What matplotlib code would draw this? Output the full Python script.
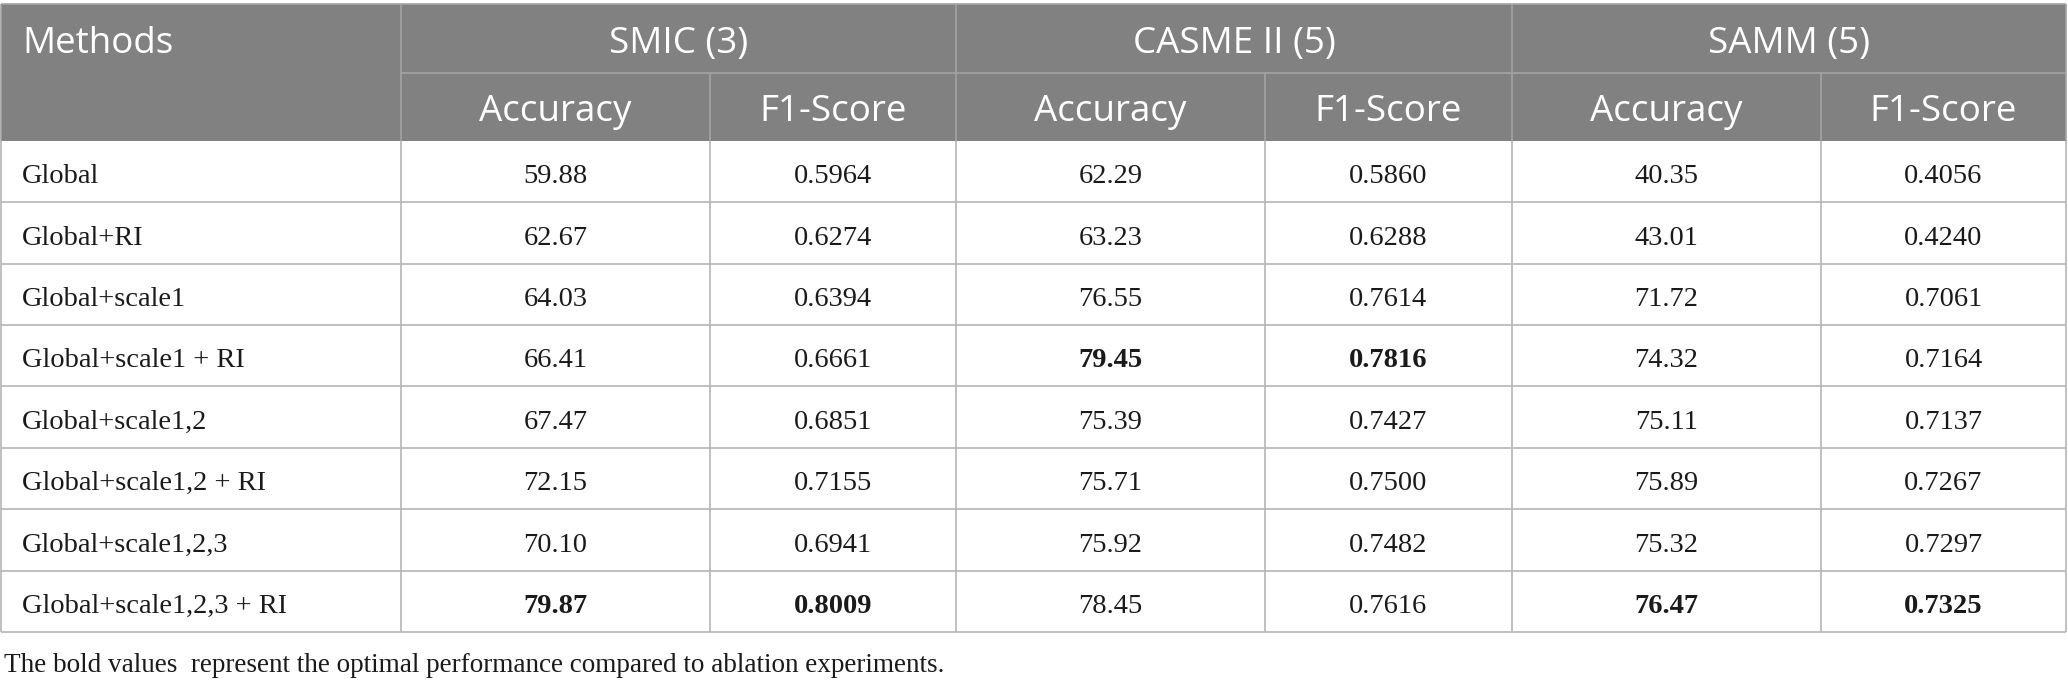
import matplotlib.pyplot as plt
from matplotlib.patches import Rectangle

# table data
methods = ["Global", "Global+RI", "Global+scale1", "Global+scale1 + RI",
           "Global+scale1,2", "Global+scale1,2 + RI", "Global+scale1,2,3",
           "Global+scale1,2,3 + RI"]
smic_acc = [59.88, 62.67, 64.03, 66.41, 67.47, 72.15, 70.10, 79.87]
smic_f1 = [0.5964, 0.6274, 0.6394, 0.6661, 0.6851, 0.7155, 0.6941, 0.8009]
casme_acc = [62.29, 63.23, 76.55, 79.45, 75.39, 75.71, 75.92, 78.45]
casme_f1 = [0.5860, 0.6288, 0.7614, 0.7816, 0.7427, 0.7500, 0.7482, 0.7616]
samm_acc = [40.35, 43.01, 71.72, 74.32, 75.11, 75.89, 75.32, 76.47]
samm_f1 = [0.4056, 0.4240, 0.7061, 0.7164, 0.7137, 0.7267, 0.7297, 0.7325]
datasets = ["SMIC (3)", "CASME II (5)", "SAMM (5)"]
metrics = ["Accuracy", "F1-Score"]
# (row, column) of bold cells, columns 0..5 after Methods
bold_cells = [(3, 2), (3, 3), (7, 0), (7, 1), (7, 4), (7, 5)]
note = "The bold values  represent the optimal performance compared to ablation experiments."

W, H = 2068, 687
fig = plt.figure(figsize=(W / 100, H / 100), dpi=100)
ax = fig.add_axes([0, 0, 1, 1])
ax.set_xlim(0, W)
ax.set_ylim(H, 0)
ax.axis("off")

# layout
xs = [1, 401, 710, 956, 1265, 1512, 1821, 2066]
y_top, y_mid, y_head = 4, 72.7, 140.7
y_bot = 632
row_h = (y_bot - y_head) / len(methods)

head_col = "#808180"
head_line = "#a3a3a3"
grid_col = "#b5b5b5"
sans = "Open Sans"
serif = "Liberation Serif"
hsize = 26.5
bsize = 20.5

ax.add_patch(Rectangle((xs[0], y_top), xs[-1] - xs[0], y_head - y_top,
                       facecolor=head_col, edgecolor="none"))
# header lines
ax.hlines(y_top, xs[0], xs[-1], color=head_line, lw=1.2)
ax.hlines(y_mid, xs[1], xs[-1], color=head_line, lw=1.2)
for i, x in enumerate(xs):
    if i in (1, 3, 5):
        ax.vlines(x, y_top, y_head, color=head_line, lw=1.2)
    elif i in (2, 4, 6):
        ax.vlines(x, y_mid, y_head, color=head_line, lw=1.2)
    ax.vlines(x, y_head, y_bot, color=grid_col, lw=1.2)
ax.vlines(xs[0], y_top, y_head, color=head_line, lw=1.2)
ax.vlines(xs[-1], y_top, y_head, color=head_line, lw=1.2)

# header text
ax.text(22, y_top + 49, "Methods", color="white", family=sans,
        fontsize=hsize, ha="left", va="baseline")
for k, name in enumerate(datasets):
    xc = (xs[1 + 2 * k] + xs[3 + 2 * k]) / 2
    ax.text(xc, y_top + 49, name, color="white", family=sans,
            fontsize=hsize, ha="center", va="baseline")
    for m, met in enumerate(metrics):
        xm = (xs[1 + 2 * k + m] + xs[2 + 2 * k + m]) / 2
        ax.text(xm, y_mid + 48, met, color="white", family=sans,
                fontsize=hsize, ha="center", va="baseline")

# body
cols = [smic_acc, smic_f1, casme_acc, casme_f1, samm_acc, samm_f1]
for r, meth in enumerate(methods):
    yb = y_head + r * row_h + 42.5
    ax.hlines(y_head + (r + 1) * row_h, xs[0], xs[-1], color=grid_col, lw=1.2)
    ax.text(22, yb, meth, family=serif, fontsize=bsize, ha="left",
            va="baseline", color="#1a1a1a")
    for c, vals in enumerate(cols):
        txt = f"{vals[r]:.2f}" if c % 2 == 0 else f"{vals[r]:.4f}"
        wt = "bold" if (r, c) in bold_cells else "normal"
        ax.text((xs[c + 1] + xs[c + 2]) / 2, yb, txt, family=serif,
                fontsize=bsize, ha="center", va="baseline", weight=wt,
                color="#1a1a1a")

ax.text(4, 672, note, family=serif, fontsize=19.5, ha="left", va="baseline",
        color="#1a1a1a")

fig.savefig("out.png", dpi=100)
